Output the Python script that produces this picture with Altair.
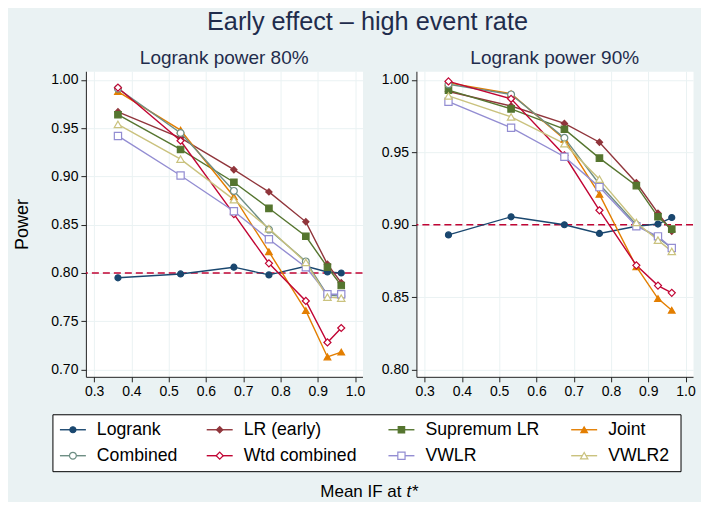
import altair as alt
import pandas as pd

# ---------------- data ----------------
mean_if = [0.364, 0.532, 0.675, 0.769, 0.868, 0.926, 0.963]
methods = ["Logrank", "LR (early)", "Supremum LR", "Joint",
           "Combined", "Wtd combined", "VWLR", "VWLR2"]

power80 = {
    "Logrank":      [0.795, 0.799, 0.806, 0.798, 0.807, 0.801, 0.800],
    "LR (early)":   [0.967, 0.940, 0.907, 0.884, 0.853, 0.809, 0.790],
    "Supremum LR":  [0.964, 0.928, 0.894, 0.867, 0.838, 0.806, 0.787],
    "Joint":        [0.988, 0.948, 0.879, 0.822, 0.761, 0.713, 0.718],
    "Combined":     [0.991, 0.945, 0.885, 0.845, 0.812, 0.777, 0.776],
    "Wtd combined": [0.992, 0.937, 0.861, 0.810, 0.771, 0.728, 0.743],
    "VWLR":         [0.942, 0.901, 0.864, 0.835, 0.806, 0.778, 0.778],
    "VWLR2":        [0.954, 0.918, 0.876, 0.846, 0.811, 0.775, 0.774],
}
power90 = {
    "Logrank":      [0.893, 0.9055, 0.900, 0.894, 0.899, 0.9005, 0.905],
    "LR (early)":   [0.992, 0.982, 0.970, 0.957, 0.929, 0.908, 0.8955],
    "Supremum LR":  [0.993, 0.980, 0.966, 0.946, 0.927, 0.9055, 0.897],
    "Joint":        [0.998, 0.9905, 0.959, 0.921, 0.871, 0.849, 0.841],
    "Combined":     [0.997, 0.990, 0.960, 0.928, 0.900, 0.891, 0.884],
    "Wtd combined": [0.999, 0.987, 0.948, 0.910, 0.872, 0.858, 0.853],
    "VWLR":         [0.985, 0.967, 0.947, 0.926, 0.899, 0.892, 0.884],
    "VWLR2":        [0.989, 0.9745, 0.956, 0.9315, 0.9016, 0.8894, 0.8816],
}
target_levels = [0.80, 0.90]
panel_titles = ["Logrank power 80%", "Logrank power 90%"]
y_ticks80 = [0.70, 0.75, 0.80, 0.85, 0.90, 0.95, 1.00]
y_ticks90 = [0.80, 0.85, 0.90, 0.95, 1.00]
x_ticks = [0.3, 0.4, 0.5, 0.6, 0.7, 0.8, 0.9, 1.0]

# legend layout (4 columns x 2 rows, row-wise)
legend_col = [0, 1, 2, 3, 0, 1, 2, 3]
legend_row = [0, 0, 0, 0, 1, 1, 1, 1]

# ---------------- styles ----------------
colors = ["#1a476f", "#90353b", "#55752f", "#e37e00",
          "#6e8e84", "#c10534", "#938dd2", "#cac27e"]
fills = ["#1a476f", "#90353b", "#55752f", "#e37e00",
         "white", "white", "white", "white"]
shapes = ["circle", "diamond", "square", "triangle-up",
          "circle", "diamond", "square", "triangle-up"]
sizes = [36, 55, 36, 48, 36, 55, 36, 48]
BG = "#eaf2f3"
NAVY = "#1f2c4c"
FONT = "Liberation Sans"

def make_df(d):
    rows = []
    for m in methods:
        for x, p in zip(mean_if, d[m]):
            rows.append({"method": m, "x": x, "power": p})
    return pd.DataFrame(rows)

color_scale = alt.Scale(domain=methods, range=colors)
fill_scale = alt.Scale(domain=methods, range=fills)
shape_scale = alt.Scale(domain=methods, range=shapes)
size_scale = alt.Scale(domain=methods, range=sizes)

def panel(d, level, ydom, yticks, ytitle, title):
    df = make_df(d)
    xenc = alt.X("x:Q", scale=alt.Scale(domain=[0.278, 1.02], nice=False, zero=False),
                 axis=alt.Axis(values=x_ticks, format=".1f", title=None))
    yaxis = alt.Axis(values=yticks, format=".2f", title=ytitle)
    yscale = alt.Scale(domain=ydom, nice=False, zero=False)
    rule = alt.Chart(pd.DataFrame({"power": [level]})).mark_rule(
        color="#c10534", strokeDash=[7, 4], strokeWidth=1.4
    ).encode(y=alt.Y("power:Q", scale=yscale, axis=yaxis))
    base = alt.Chart(df).encode(
        x=xenc,
        y=alt.Y("power:Q", scale=yscale, axis=yaxis),
    )
    lines = base.mark_line(strokeWidth=1.4).encode(
        color=alt.Color("method:N", scale=color_scale, legend=None),
        order="x:Q",
    )
    pts = base.mark_point(filled=True, strokeWidth=1.2, opacity=1).encode(
        stroke=alt.Stroke("method:N", scale=color_scale, legend=None),
        fill=alt.Fill("method:N", scale=fill_scale, legend=None),
        shape=alt.Shape("method:N", scale=shape_scale, legend=None),
        size=alt.Size("method:N", scale=size_scale, legend=None),
    )
    return alt.layer(rule, lines, pts).properties(
        width=277, height=306,
        title=alt.TitleParams(title, fontSize=19, font=FONT, color=NAVY,
                              fontWeight="normal", anchor="middle", frame="group",
                              offset=3),
        view=alt.ViewBackground(fill="white", stroke="transparent"),
    )

left = panel(power80, target_levels[0], [0.6924, 1.009], y_ticks80, "Power", panel_titles[0])
right = panel(power90, target_levels[1], [0.795, 1.006], y_ticks90, None, panel_titles[1])

top = alt.hconcat(left, right, spacing=15)

# ---------------- custom legend ----------------
leg_df = pd.DataFrame({"method": methods, "col": legend_col, "row": legend_row})
lx = alt.X("col:Q", scale=alt.Scale(domain=[0, 1, 2, 3], range=[-26, 121, 303, 486]), axis=None)
ly = alt.Y("row:Q", scale=alt.Scale(domain=[0, 1], range=[15, 41]), axis=None)

box = alt.Chart(pd.DataFrame({"k": [0]})).mark_rect(
    fill="white", stroke="black", strokeWidth=1
).encode(x=alt.value(-33), x2=alt.value(596), y=alt.value(0), y2=alt.value(57))

leg_base = alt.Chart(leg_df).encode(x=lx, y=ly)
leg_lines = leg_base.mark_rule(strokeWidth=1.4, x2Offset=26).encode(
    x2="col:Q",
    color=alt.Color("method:N", scale=color_scale, legend=None),
)
leg_pts = leg_base.mark_point(filled=True, strokeWidth=1.2, opacity=1, xOffset=13).encode(
    stroke=alt.Stroke("method:N", scale=color_scale, legend=None),
    fill=alt.Fill("method:N", scale=fill_scale, legend=None),
    shape=alt.Shape("method:N", scale=shape_scale, legend=None),
    size=alt.Size("method:N", scale=size_scale, legend=None),
)
leg_text = leg_base.mark_text(align="left", baseline="middle", dx=37, fontSize=17.7,
                              font=FONT, color="black").encode(text="method:N")

xt_df = pd.DataFrame({"a": ["Mean IF at"], "b": ["t*"]})
xt1 = alt.Chart(xt_df).mark_text(align="right", baseline="middle", fontSize=17,
                                 font=FONT, color="black").encode(
    text="a:N", x=alt.value(316), y=alt.value(77))
xt2 = alt.Chart(xt_df).mark_text(align="left", baseline="middle", fontSize=17,
                                 font=FONT, color="black", fontStyle="italic").encode(
    text="b:N", x=alt.value(321), y=alt.value(77))

legend = alt.layer(box, leg_lines, leg_pts, leg_text, xt1, xt2).properties(
    width=596, height=57,
    view=alt.ViewBackground(fill="transparent", stroke="transparent"),
)

chart = alt.vconcat(top, legend, spacing=14).properties(
    title=alt.TitleParams("Early effect \u2013 high event rate", fontSize=25.3, font=FONT,
                          color=NAVY, fontWeight="normal", anchor="middle", offset=14,
                          dx=13),
    background=BG,
    padding={"left": 5, "top": 1, "right": 5, "bottom": 1},
).configure_axis(
    labelFont=FONT, labelFontSize=14, labelColor="black",
    titleFont=FONT, titleFontSize=18, titleFontWeight="normal", titleColor="black",
    domainColor="#222222", domainWidth=1, tickColor="#222222", tickSize=5,
    labelPadding=3, gridColor=BG, gridWidth=1, titlePadding=19,
).configure_view(stroke="transparent")

chart.save("out.html", embed_options={"renderer": "svg", "actions": False})
